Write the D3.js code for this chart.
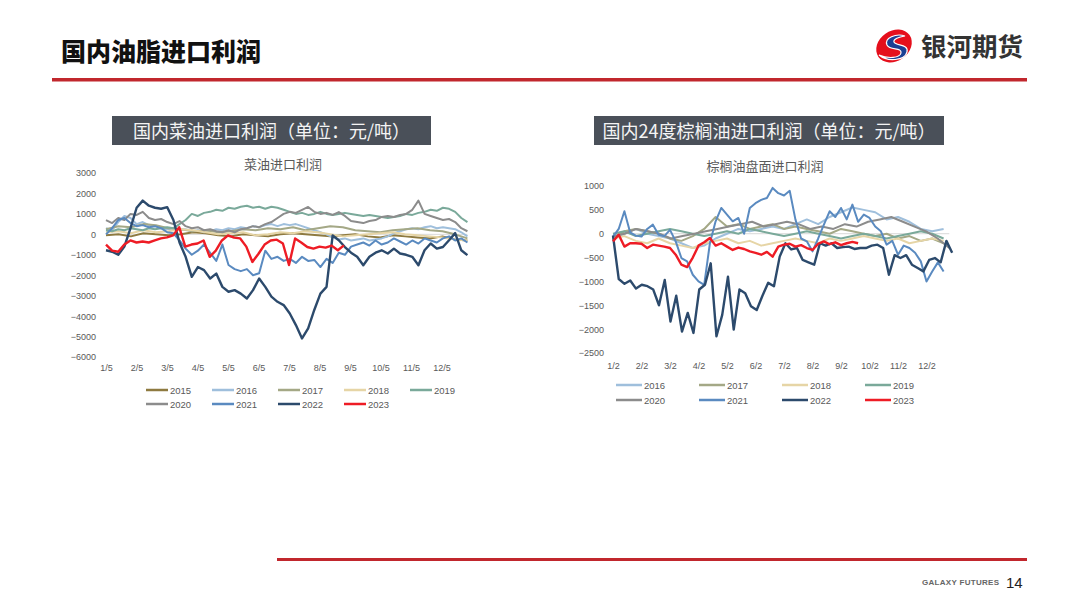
<!DOCTYPE html>
<html>
<head>
<meta charset="utf-8">
<script src="https://cdn.jsdelivr.net/npm/d3@7/dist/d3.min.js"></script>
<style>
  body, html {
    padding: 0;
    margin: 0;
    background: #fff;
  }
  svg {
    display: block;
    width: 1080px;
    height: 608px;
  }
  .cn { font-family: "Noto Sans CJK SC", sans-serif; }
  .tick text { font-family: "Liberation Sans", Arial, sans-serif; font-size: 9px; fill: #595959; }
</style>
</head>
<body>
<svg></svg>
<script>

  // ---- data: rapeseed oil import profit (yuan/t), month index from 1/5 ----
  var rapeMonths = ['1/5','2/5','3/5','4/5','5/5','6/5','7/5','8/5','9/5','10/5','11/5','12/5'];
  var rapeYears = ['2015','2016','2017','2018','2019','2020','2021','2022','2023'];
  var rapeEnds = [11.85, 11.85, 11.85, 11.85, 11.85, 11.85, 11.85, 11.85, 7.8];
  var rapeTicks = [3000, 2000, 1000, 0, -1000, -2000, -3000, -4000, -5000, -6000];

  var rape2015 = [-50, 0, -100, 50, 0, -50, 0, 100, 50, -50, -100, 0, -50, -100, 0, 50, 0, -50, -100, -50, 0, -100, -150, -50, -100, -150, -200, -100, -250, -300];
  var rape2016 = [300, 200, 600, 900, 800, 500, 600, 450, 400, 300, 250, 300, 200, 250, 150, 200, 100, 150, 250, 200, 300, 250, 350, 300, 400, 350, 450, 500, 400, 500, 450, 500, 400, 300, 200, 100, 0, -150, -250, -200, -300, -250, -200, -300, -250, -200, -100, 50, 150, 250, 300, 250, 350, 400, 300, 350, 300, 250, 100, -100];
  var rape2017 = [250, 400, 350, 500, 450, 300, 250, 150, 200, 100, 150, 250, 200, 300, 250, 350, 200, 300, 400, 350, 200, 150, 100, 200, 250, 300, 200, 150, 0, -200];
  var rape2018 = [100, 150, 50, 200, 100, 150, 250, 200, 100, 0, 50, 100, -50, 0, 100, 50, 150, 100, 0, -100, -50, 0, 50, 100, 0, -50, -100, -150, -250, -300];
  var rape2019 = [200, 150, 250, 200, 300, 250, 200, 300, 250, 300, 350, 300, 500, 700, 1000, 900, 1050, 1100, 1200, 1150, 1300, 1250, 1350, 1400, 1300, 1350, 1250, 1350, 1300, 1200, 1100, 1000, 1050, 950, 1000, 1100, 1000, 950, 1000, 1050, 1000, 950, 900, 950, 900, 850, 800, 850, 900, 1000, 950, 1050, 1100, 1200, 1150, 1300, 1250, 1100, 800, 600];
  var rape2020 = [700, 550, 800, 700, 1000, 950, 1100, 800, 700, 750, 600, 500, 650, 400, 300, 350, 200, 250, 150, 100, 200, 100, 250, 300, 400, 350, 500, 600, 800, 1000, 1100, 1050, 1200, 1340, 1100, 1000, 1050, 950, 1090, 900, 650, 600, 550, 650, 700, 850, 900, 850, 950, 1000, 1200, 1650, 1000, 900, 800, 700, 750, 600, 300, 150];
  var rape2021 = [0, 300, 700, 800, 550, 400, 450, 350, 400, 300, 100, 50, -300, -700, -1000, -800, -500, -900, -1300, -500, -1500, -1700, -1800, -1700, -2000, -1900, -800, -1200, -1100, -1300, -1200, -1400, -1100, -1300, -1250, -1600, -1200, -1400, -900, -1000, -600, -500, -400, -550, -300, -500, -400, -200, -350, -500, -300, -450, -200, -300, -400, -200, -100, -300, -200, -400];
  var rape2022 = [-780, -850, -1000, -600, 300, 1300, 1650, 1400, 1300, 1250, 1330, 700, -400, -1100, -2080, -1600, -1750, -2160, -1920, -2570, -2810, -2730, -2900, -3140, -2730, -2160, -2570, -3050, -3300, -3460, -3870, -4440, -5090, -4600, -3700, -2900, -2570, -50, -290, -620, -900, -1100, -1510, -1100, -900, -780, -940, -700, -940, -1000, -1100, -1510, -780, -450, -700, -620, -290, 60, -780, -1020];
  var rape2023 = [-500, -800, -850, -500, -300, -400, -350, -400, -300, -200, -150, -50, 350, -600, -500, -450, -300, -1100, -800, -300, -50, -160, -200, -600, -1350, -950, -500, -300, -260, -450, -1500, -200, -400, -620, -700, -600, -650, -550, -780, -540];

  // ---- data: palm oil (24 deg) import profit (yuan/t), month index from 1/2 ----
  var palmMonths = ['1/2','2/2','3/2','4/2','5/2','6/2','7/2','8/2','9/2','10/2','11/2','12/2'];
  var palmYears = ['2016','2017','2018','2019','2020','2021','2022','2023'];
  var palmEnds = [11.6, 11.6, 11.6, 11.6, 11.8, 11.6, 11.9, 8.6];
  var palmTicks = [1000, 500, 0, -500, -1000, -1500, -2000, -2500];

  var palm2016 = [-100, 0, 100, 0, -50, -100, -200, -300, -250, -100, 0, 100, 50, 100, 150, 100, 200, 300, 200, 350, 450, 550, 500, 450, 300, 350, 250, 100, 50, 100];
  var palm2017 = [-100, 50, 100, 50, 0, -100, -150, -50, 100, 350, 150, 200, 100, 150, 200, 100, 150, 100, 50, 0, 100, 50, 0, -50, 0, -100, -50, -150, -100, -200];
  var palm2018 = [-100, -50, -150, -200, -100, -200, -250, -300, -200, -150, -100, -200, -150, -250, -200, -150, -100, -150, -200, -100, -150, -100, -50, -100, -150, -100, -200, -150, -100, -150];
  var palm2019 = [0, 50, -50, 0, 50, 100, 50, 0, -50, 0, 50, 0, 100, 50, 0, -50, 0, 50, 0, -50, -100, -50, 0, -50, -100, -50, 0, 50, 0, -100];
  var palm2020 = [-50, 0, 100, 50, 0, -100, -50, 0, 50, 100, 150, 200, 250, 150, 200, 250, 200, 100, 150, 100, 200, 150, 250, 300, 350, 250, 150, 50, -100, -300];
  var palm2021 = [-60, 100, 470, 30, -40, -60, 100, 190, -20, -50, 80, -160, -510, -580, -860, -1000, -1070, -200, 260, 540, 400, 260, 330, 0, 540, 640, 710, 750, 960, 850, 800, 900, 300, -100, -160, -370, -100, 190, 470, 350, 540, 300, 610, 250, 400, 330, 150, 50, -230, -150, -440, -250, -300, -400, -580, -1000, -790, -600, -790];
  var palm2022 = [-40, -950, -1050, -980, -1150, -1070, -1100, -1170, -1500, -970, -1840, -1300, -2050, -1660, -2080, -1170, -1070, -620, -2150, -1700, -900, -2010, -1170, -1250, -1520, -1600, -1300, -1030, -1100, -480, -200, -330, -300, -550, -600, -650, -200, -250, -200, -300, -280, -270, -320, -300, -300, -250, -230, -300, -860, -450, -510, -450, -650, -720, -790, -550, -510, -600, -150, -400];
  var palm2023 = [-160, -20, -270, -200, -200, -210, -300, -230, -250, -270, -300, -440, -650, -700, -500, -250, -180, -90, -250, -200, -270, -340, -290, -320, -370, -400, -440, -380, -480, -270, -230, -210, -270, -240, -300, -340, -210, -160, -220, -180, -240, -200, -170, -200];

  var yearColors = {
    '2015': '#8e7a40',
    '2016': '#9fbfdc',
    '2017': '#a4a886',
    '2018': '#e6d5a6',
    '2019': '#7aa99a',
    '2020': '#8c8c8c',
    '2021': '#5a8ac0',
    '2022': '#2c4a6c',
    '2023': '#ee1c25'
  };

  var rapeData = [rape2015, rape2016, rape2017, rape2018, rape2019, rape2020, rape2021, rape2022, rape2023];
  var palmData = [palm2016, palm2017, palm2018, palm2019, palm2020, palm2021, palm2022, palm2023];

  var svg = d3.select('svg');

  // ---- page header ----
  svg.append('text')
    .attr('class', 'cn')
    .attr('x', 61).attr('y', 61)
    .style('font-size', '25px').style('font-weight', 900).style('fill', '#111')
    .text('国内油脂进口利润');

  svg.append('rect')
    .attr('x', 52).attr('y', 78).attr('width', 975).attr('height', 3.5)
    .style('fill', '#c1272d');

  // logo
  var logo = svg.append('g');
  logo.append('ellipse')
    .attr('cx', 894).attr('cy', 46).attr('rx', 19).attr('ry', 15)
    .attr('transform', 'rotate(-35 894 46)')
    .style('fill', '#e50f1c');
  logo.append('path')
    .attr('d', 'M 905 36 C 896 33, 884 38, 887 45 C 890 51, 902 47, 901 53 C 900 58, 888 59, 879 55 C 887 62, 905 61, 907 52 C 909 44, 896 46, 894 42 C 893 39, 899 37, 905 36 Z')
    .style('fill', '#1d3f93').style('stroke', '#fff').style('stroke-width', 1.2);
  svg.append('text')
    .attr('class', 'cn')
    .attr('x', 921).attr('y', 56)
    .style('font-size', '25.5px').style('font-weight', 700).style('fill', '#333')
    .text('银河期货');

  // ---- footer ----
  svg.append('rect')
    .attr('x', 277).attr('y', 558).attr('width', 750).attr('height', 3)
    .style('fill', '#c1272d');
  svg.append('text')
    .attr('x', 922).attr('y', 585)
    .style('font-family', 'Liberation Sans, Arial, sans-serif')
    .style('font-size', '8px').style('font-weight', 700).style('fill', '#666')
    .style('letter-spacing', '0.3px')
    .text('GALAXY FUTURES');
  svg.append('text')
    .attr('x', 1006).attr('y', 588)
    .style('font-family', 'Liberation Sans, Arial, sans-serif')
    .style('font-size', '15px').style('fill', '#222')
    .text('14');

  // ---- one chart panel ----
  function drawPanel(p) {
    var g = svg.append('g');

    // dark title box
    g.append('rect')
      .attr('x', p.box[0]).attr('y', 116).attr('width', p.box[1] - p.box[0]).attr('height', 29)
      .style('fill', '#4a5059');
    g.append('text')
      .attr('class', 'cn')
      .attr('x', (p.box[0] + p.box[1]) / 2).attr('y', 137.5)
      .attr('text-anchor', 'middle')
      .style('font-size', '18px').style('fill', '#f4f4f4')
      .text(p.boxTitle);

    g.append('text')
      .attr('class', 'cn')
      .attr('x', p.titleX).attr('y', p.titleY)
      .attr('text-anchor', 'middle')
      .style('font-size', '13px').style('fill', '#595959')
      .text(p.title);

    var x = d3.scaleLinear().domain([0, 12]).range([p.left, p.right]);
    var y = d3.scaleLinear().domain(d3.extent(p.ticks)).range([p.bottom, p.top]);

    var yAxis = g.append('g')
      .attr('transform', 'translate(' + p.yLabelX + ',0)')
      .call(d3.axisLeft(y).tickValues(p.ticks).tickSize(0).tickPadding(0).tickFormat(d3.format('d')));
    yAxis.select('.domain').remove();

    var xAxis = g.append('g')
      .attr('transform', 'translate(0,' + p.xLabelY + ')')
      .call(d3.axisBottom(x).tickValues(d3.range(12)).tickSize(0).tickPadding(0)
        .tickFormat(function (i) { return p.months[i]; }));
    xAxis.select('.domain').remove();

    // zero line
    g.append('line')
      .attr('x1', x(0)).attr('x2', x(p.zeroEnd))
      .attr('y1', y(0)).attr('y2', y(0))
      .style('stroke', '#d9d9d9').style('stroke-width', 1);

    p.years.forEach(function (yr, k) {
      var vals = p.data[k];
      var end = p.ends[k];
      var line = d3.line()
        .x(function (d, i) { return x(end * i / (vals.length - 1)); })
        .y(function (d) { return y(d); });
      g.append('path')
        .datum(vals)
        .attr('d', line)
        .style('fill', 'none')
        .style('stroke', yearColors[yr])
        .style('stroke-width', yr === '2023' || yr === '2022' ? 2.4 : 2)
        .style('stroke-linejoin', 'round');
    });

    // legend
    p.years.forEach(function (yr, k) {
      var col = k % p.legendCols;
      var row = Math.floor(k / p.legendCols);
      var lx = p.legendX + col * p.legendStep;
      var ly = p.legendY + row * p.legendRowH;
      g.append('line')
        .attr('x1', lx).attr('x2', lx + p.legendLen)
        .attr('y1', ly).attr('y2', ly)
        .style('stroke', yearColors[yr]).style('stroke-width', 2.5);
      g.append('text')
        .attr('x', lx + p.legendLen + 2).attr('y', ly + 3.5)
        .style('font-family', 'Liberation Sans, Arial, sans-serif')
        .style('font-size', '9.5px').style('fill', '#595959')
        .text(yr);
    });
  }

  drawPanel({
    box: [112, 431],
    boxTitle: '国内菜油进口利润（单位：元/吨）',
    title: '菜油进口利润',
    titleX: 283, titleY: 169,
    left: 106, right: 472, top: 173, bottom: 357,
    yLabelX: 96, xLabelY: 365,
    months: rapeMonths, ticks: rapeTicks,
    years: rapeYears, ends: rapeEnds, data: rapeData,
    zeroEnd: 11.85,
    legendX: 146, legendY: 390, legendStep: 66, legendRowH: 14, legendCols: 5, legendLen: 22
  });

  drawPanel({
    box: [594, 944],
    boxTitle: '国内24度棕榈油进口利润（单位：元/吨）',
    title: '棕榈油盘面进口利润',
    titleX: 765, titleY: 171,
    left: 613, right: 955, top: 186, bottom: 353,
    yLabelX: 604, xLabelY: 363,
    months: palmMonths, ticks: palmTicks,
    years: palmYears, ends: palmEnds, data: palmData,
    zeroEnd: 11.8,
    legendX: 616, legendY: 385, legendStep: 83, legendRowH: 15, legendCols: 4, legendLen: 26
  });

</script>
</body>
</html>
